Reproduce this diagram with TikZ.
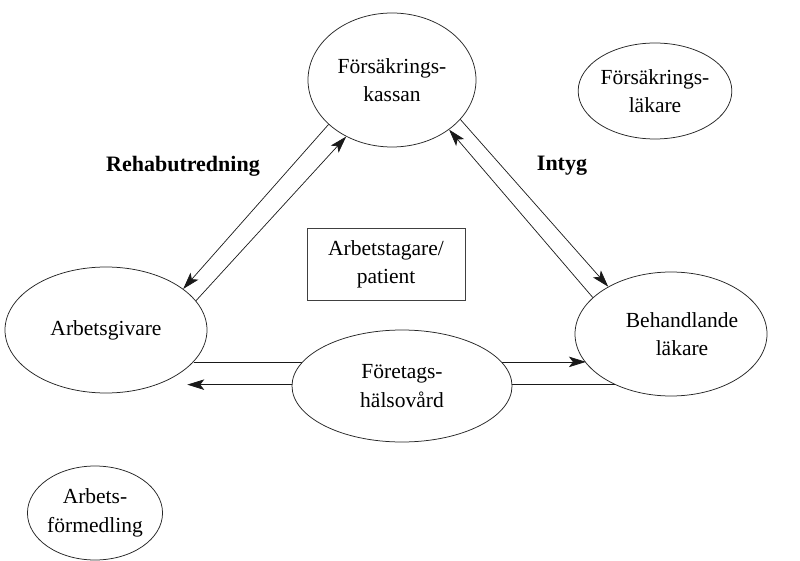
\documentclass[tikz,border=0pt]{standalone}
\usepackage{fontspec}
\setmainfont{Liberation Serif}
\usetikzlibrary{shapes.geometric,arrows.meta,calc}
\begin{document}
\begin{tikzpicture}[x=1pt,y=-1pt,
  ell/.style={draw=black!85, line width=0.75pt, ellipse, inner sep=0pt, fill=white},
  txt/.style={align=center, font=\fontsize{21.5}{28.5}\selectfont, inner sep=0pt},
  lbl/.style={font=\fontsize{22}{26}\selectfont\bfseries, inner sep=0pt},
  conn/.style={line width=0.7pt, draw=black!90},
  arr/.style={conn, -{Stealth[length=17pt,width=10.5pt,inset=4pt]}}]
\useasboundingbox (0,0) rectangle (800,561);
\fill[white] (0,0) rectangle (800,561);
\node[ell, txt, minimum width=168pt, minimum height=134pt] (kassa) at (392,80) {Försäkrings-\\kassan};
\node[ell, txt, minimum width=128pt, minimum height=96pt] (flak) at (655,91) {Försäkrings-\\läkare};
\node[ell, txt, minimum width=202pt, minimum height=126pt] (arb) at (106,330) {Arbetsgivare};
\node[ell, minimum width=192pt, minimum height=124pt] (beh) at (671,334) {};
\node[txt] (behtxt) at (682,334) {Behandlande\\läkare};
\node[ell, txt, minimum width=130pt, minimum height=94pt] (arbf) at (95,513) {Arbets-\\förmedling};
\node[draw=black!75, line width=0.8pt, minimum width=158pt, minimum height=72pt, txt] (pat) at (386,264.5) {Arbetstagare/\\patient};
\draw[arr] (kassa.215) -- (arb.28);
\draw[arr] (arb.18) -- (kassa.231);
\draw[arr] (kassa.330) -- (beh.143);
\draw[arr] (beh.155) -- (kassa.319);
\draw[arr] (arb.340) -- (arb.340 -| beh.199);
\draw[arr] (beh.222) -- (beh.222 -| arb.335);
\node[ell, txt, minimum width=220pt, minimum height=112pt] (fhv) at (402,386) {Företags-\\hälsovård};
\node[lbl] (rehab) at (183,166) {Rehabutredning};
\node[lbl] (intyg) at (562,166) {Intyg};
\end{tikzpicture}
\end{document}
